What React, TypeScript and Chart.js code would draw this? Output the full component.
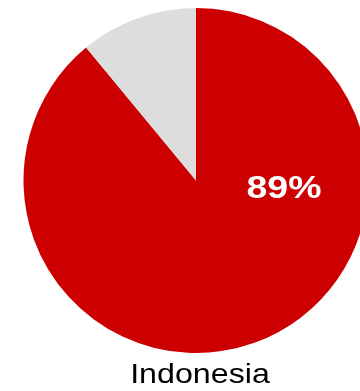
import React, { useEffect, useRef } from "react";
import { Chart, registerables } from "chart.js";

Chart.register(...registerables);

const categories = ["Yes", "No"];
const values = [89, 11];
const colors = ["#CC0000", "#DDDDDD"];
const valueLabel = "89%";
const countryLabel = "Indonesia";

const labelPlugin = {
  id: "valueLabel",
  afterDatasetsDraw(chart: any) {
    const meta = chart.getDatasetMeta(0);
    const arc = meta.data[0];
    if (!arc) return;
    const { x, y, outerRadius } = arc.getProps(["x", "y", "outerRadius"], true);
    const ctx = chart.ctx;
    ctx.save();
    ctx.translate(x + outerRadius * 0.51, y + outerRadius * 0.102);
    ctx.scale(1.17, 1);
    ctx.fillStyle = "#FFFFFF";
    ctx.font = "bold 32px 'Liberation Sans', Arial, sans-serif";
    ctx.textAlign = "center";
    ctx.textBaseline = "alphabetic";
    ctx.fillText(valueLabel, 0, 0);
    ctx.restore();
  },
};

export default function App() {
  const ref = useRef<HTMLCanvasElement>(null);
  useEffect(() => {
    if (!ref.current) return;
    const chart = new Chart(ref.current, {
      type: "pie",
      data: {
        labels: categories,
        datasets: [
          {
            data: values,
            backgroundColor: colors,
            borderWidth: 0,
          },
        ],
      },
      options: {
        responsive: false,
        animation: false,
        devicePixelRatio: 1,
        layout: { padding: { left: 23.5, top: 8, right: 31.5, bottom: 38 } },
        plugins: {
          legend: { display: false },
          tooltip: { enabled: false },
        },
      },
      plugins: [labelPlugin],
    });
    return () => chart.destroy();
  }, []);

  return (
    <div
      style={{
        position: "fixed",
        left: 0,
        top: 0,
        width: 360,
        height: 391,
        overflow: "hidden",
        background: "#FFFFFF",
      }}
    >
      <canvas
        ref={ref}
        width={400}
        height={391}
        style={{ position: "absolute", left: 0, top: 0, width: 400, height: 391 }}
      />
      <div
        style={{
          position: "absolute",
          left: 99.5,
          top: 360,
          width: 200,
          textAlign: "center",
          fontFamily: "'Liberation Sans', Arial, sans-serif",
          fontSize: 28,
          lineHeight: "28px",
          color: "#000000",
          transform: "scaleX(1.15)",
          transformOrigin: "center",
          whiteSpace: "nowrap",
        }}
      >
        {countryLabel}
      </div>
    </div>
  );
}
